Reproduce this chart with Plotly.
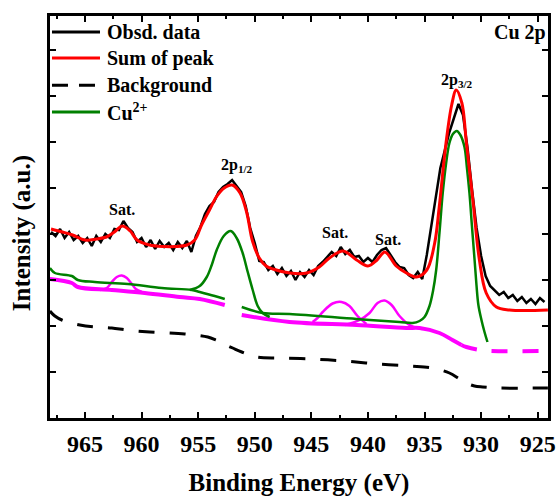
import plotly.graph_objects as go

# ---------------- data (binding energy in eV, intensity in a.u.) ----------------
# Observed spectrum: regular energy grid
obs_start = 968.0
obs_step = 0.4
obs_int = [186, 182, 189, 180, 186, 178, 182, 175, 180, 172,
           182, 176, 184, 180, 189, 188, 197, 190, 186, 176,
           180, 171, 178, 169, 177, 171, 175, 168, 176, 170,
           177, 166, 182, 191, 204, 212, 216, 226, 231, 234,
           238, 232, 226, 212, 190, 175, 157, 156, 148, 152,
           144, 150, 142, 147, 138, 146, 141, 148, 143, 152,
           156, 161, 166, 162, 171, 164, 168, 161, 162, 156,
           160, 156, 163, 168, 170, 163, 156, 151, 150, 143,
           140, 146, 139, 163, 193, 218, 250, 268, 286, 300,
           314, 303, 270, 228, 190, 162, 142, 132, 128, 123,
           126, 120, 123, 117, 121, 115, 119, 114, 120, 116]
obs_be = [round(obs_start - obs_step * i, 2) for i in range(len(obs_int))]

# Sum of peaks (fit envelope)
sum_be = [968.0, 967.0, 966.1, 965.0, 964.0, 963.1, 962.4, 961.7, 961.0, 960.4,
          959.3, 958.0, 957.0, 956.0, 955.3, 954.7, 954.0, 953.4, 952.7, 952.0,
          951.3, 950.7, 950.2, 949.6, 949.0, 948.4, 946.9, 945.4, 944.3, 943.4,
          942.2, 941.0, 940.0, 939.2, 938.5, 937.5, 936.6, 935.7, 934.8, 934.1,
          933.7, 933.1, 932.6, 932.2, 931.7, 931.3, 930.7, 930.15, 929.55, 928.65,
          927.5, 924.1]
sum_int = [189, 186, 183, 178, 179, 181, 186, 192, 187, 178,
           173, 171.5, 171.5, 173, 178, 193, 208, 221, 230, 233,
           225, 205, 177, 160, 152, 149, 145, 145, 151, 160,
           167, 158, 152, 158, 166, 152, 145, 141, 148, 175,
           211, 275, 313, 328, 315, 275, 215, 158, 125, 111,
           108, 108]

# Shirley background
bg_be = [968.1, 967.66, 967.04, 965.45, 964.13, 962.63, 961.3, 959.27, 956.18, 954.15,
         953.45, 952.74, 951.95, 951.15, 949.83, 947.8, 944.89, 942.06, 939.15, 936.24,
         934.3, 932.8, 931.91, 931.3, 930.59, 929.88, 928.38, 924.1]
bg_int = [107, 102, 98, 93, 91, 90, 88, 86, 84, 81,
          78, 74, 70, 66, 61, 60, 59, 57, 54, 52,
          50, 45, 39, 35, 32, 31, 30, 30]

# Cu2+ component: baseline (2p1/2 side), 2p1/2 peak, 2p3/2 side with peak
cu_base1_be = [968.1, 967.66, 966.16, 965.63, 964.13, 961.22, 958.21, 955.57, 954.86, 953.54, 952.65]
cu_base1_int = [150, 145, 142, 138, 136, 134, 130, 128, 126, 122, 119]

cu_p12_be = [955.74, 954.86, 954.24, 953.8, 953.36, 952.74, 952.12, 951.6, 951.07, 950.62,
             950.18, 949.74, 949.3, 948.68]
cu_p12_int = [128, 132, 141, 153, 168, 182, 187, 180, 165, 146,
              128, 112, 105, 101]

cu_p32_be = [951.15, 949.3, 946.92, 941.0, 937.21, 936.06, 935.44, 935.0, 934.56, 934.25,
             933.97, 933.68, 933.39, 933.09, 932.8, 932.49, 932.15, 931.83, 931.47, 931.25,
             931.03, 930.81, 930.59, 930.41, 930.24, 929.97, 929.7, 929.44]
cu_p32_int = [111, 105, 104, 99, 96, 95, 97, 101, 112, 127,
              148, 185, 225, 255, 275, 284, 287, 283, 271, 250,
              225, 192, 160, 133, 113, 98, 86, 76]

# Satellite baseline (magenta) and satellite peaks
sat_base1_be = [968.1, 966.16, 965.63, 962.63, 959.72, 956.63, 954.86, 952.65]
sat_base1_int = [139, 135, 131, 128, 125, 121, 119, 113]
sat_base2_be = [951.15, 946.92, 941.0, 936.6, 935.44, 933.68, 932.53, 931.74]
sat_base2_int = [103, 96, 93, 90, 90, 85, 78, 73]
sat_base3_be = [931.74, 931.3, 930.15, 929.27, 924.1]
sat_base3_int = [73, 71, 68, 67, 67]

sat1_be = [963.69, 963.07, 962.63, 962.19, 961.75, 961.3, 960.86, 960.51, 959.98]
sat1_int = [128, 130, 136, 141, 142.5, 140, 134, 129, 126]
sat2_be = [944.89, 944.45, 944.0, 943.12, 942.33, 941.63, 940.92, 940.13]
sat2_int = [96, 100, 106, 114.5, 116, 112, 102, 94]
sat3_be = [942.06, 940.74, 939.86, 939.15, 938.53, 937.91, 937.21, 936.33, 935.18]
sat3_int = [93, 98, 105, 115, 117.5, 113, 102, 93, 89]

# Peak labels
label_text = ["<b>Sat.</b>", "<b>2p<sub>1/2</sub></b>", "<b>Sat.</b>", "<b>Sat.</b>", "<b>2p<sub>3/2</sub></b>"]
label_be = [961.7, 951.6, 942.9, 938.2, 932.1]
label_int = [209, 253, 186, 179, 338]

# Legend entries
legend_names = ["Obsd. data", "Sum of peak", "Background", "Cu<sup>2+</sup>"]

FONT = "Liberation Serif"
GREEN = "#008000"
MAG = "#ff00ff"
RED = "#ff0000"

fig = go.Figure()

# background (black dashed)
fig.add_trace(go.Scatter(x=bg_be, y=bg_int, mode="lines", name=legend_names[2],
                         line=dict(color="black", width=3, dash="16px,15px", shape="spline")))
# magenta baselines and satellites
for xs, ys in [(sat_base1_be, sat_base1_int), (sat_base2_be, sat_base2_int)]:
    fig.add_trace(go.Scatter(x=xs, y=ys, mode="lines",
                             line=dict(color=MAG, width=4, shape="spline")))
fig.add_trace(go.Scatter(x=sat_base3_be, y=sat_base3_int, mode="lines",
                         line=dict(color=MAG, width=4, dash="16px,15px", shape="spline")))
for xs, ys in [(sat1_be, sat1_int), (sat2_be, sat2_int), (sat3_be, sat3_int)]:
    fig.add_trace(go.Scatter(x=xs, y=ys, mode="lines",
                             line=dict(color=MAG, width=2.5, shape="spline")))
# green Cu2+
for xs, ys in [(cu_base1_be, cu_base1_int), (cu_p12_be, cu_p12_int), (cu_p32_be, cu_p32_int)]:
    fig.add_trace(go.Scatter(x=xs, y=ys, mode="lines", name=legend_names[3],
                             line=dict(color=GREEN, width=2.5, shape="spline")))
# observed
fig.add_trace(go.Scatter(x=obs_be, y=obs_int, mode="lines", name=legend_names[0],
                         line=dict(color="black", width=2.5)))
# sum of peaks
fig.add_trace(go.Scatter(x=sum_be, y=sum_int, mode="lines", name=legend_names[1],
                         line=dict(color=RED, width=3, shape="spline")))

for t, xv, yv in zip(label_text, label_be, label_int):
    fig.add_annotation(x=xv, y=yv, text=t, showarrow=False, xanchor="center", yanchor="middle",
                       font=dict(family=FONT, size=16, color="black"))

# hand-placed legend (long line samples like the original)
leg_y = [0.960, 0.8955, 0.828, 0.761]
leg_style = [dict(color="black", width=3), dict(color=RED, width=3),
             dict(color="black", width=3, dash="16px,11px"), dict(color=GREEN, width=3)]
for name, yy, st in zip(legend_names, leg_y, leg_style):
    fig.add_shape(type="line", xref="paper", yref="paper", x0=0.004, x1=0.1004, y0=yy, y1=yy, line=st)
    fig.add_annotation(xref="paper", yref="paper", x=0.110, y=yy, text="<b>" + name + "</b>",
                       showarrow=False, xanchor="left", yanchor="middle",
                       font=dict(family=FONT, size=20, color="black"))

fig.add_annotation(xref="paper", yref="paper", x=1.0, y=0.958, text="<b>Cu 2p</b>",
                   showarrow=False, xanchor="right", yanchor="middle",
                   font=dict(family=FONT, size=20, color="black"))

# y-axis title
fig.add_annotation(xref="paper", yref="paper", x=-0.056, y=0.46, text="<b>Intensity (a.u.)</b>",
                   textangle=-90, showarrow=False, xanchor="center", yanchor="middle",
                   font=dict(family=FONT, size=25, color="black"))

fig.update_layout(
    width=558, height=497,
    margin=dict(l=50, r=10, t=16, b=79, autoexpand=False),
    paper_bgcolor="white", plot_bgcolor="white",
    showlegend=False,
    xaxis=dict(range=[968.09, 924.09], tick0=925, dtick=5, automargin=False,
               showline=True, linecolor="black", linewidth=3, mirror="ticks",
               ticks="inside", ticklen=6, tickwidth=2, tickcolor="black",
               minor=dict(dtick=2.5, ticks="inside", ticklen=3, tickwidth=2, tickcolor="black"),
               showgrid=False, zeroline=False,
               tickfont=dict(family=FONT, size=24, color="black", weight="bold"),
               ticklabelstandoff=2,
               title=dict(text="<b>Binding Energy (eV)</b>", standoff=24,
                          font=dict(family=FONT, size=25, color="black"))),
    yaxis=dict(range=[0, 402], tick0=0, dtick=46, automargin=False,
               showline=True, linecolor="black", linewidth=3, mirror="ticks",
               ticks="inside", ticklen=6, tickwidth=2, tickcolor="black",
               showticklabels=False, showgrid=False, zeroline=False),
)

fig.write_html("out.html")
